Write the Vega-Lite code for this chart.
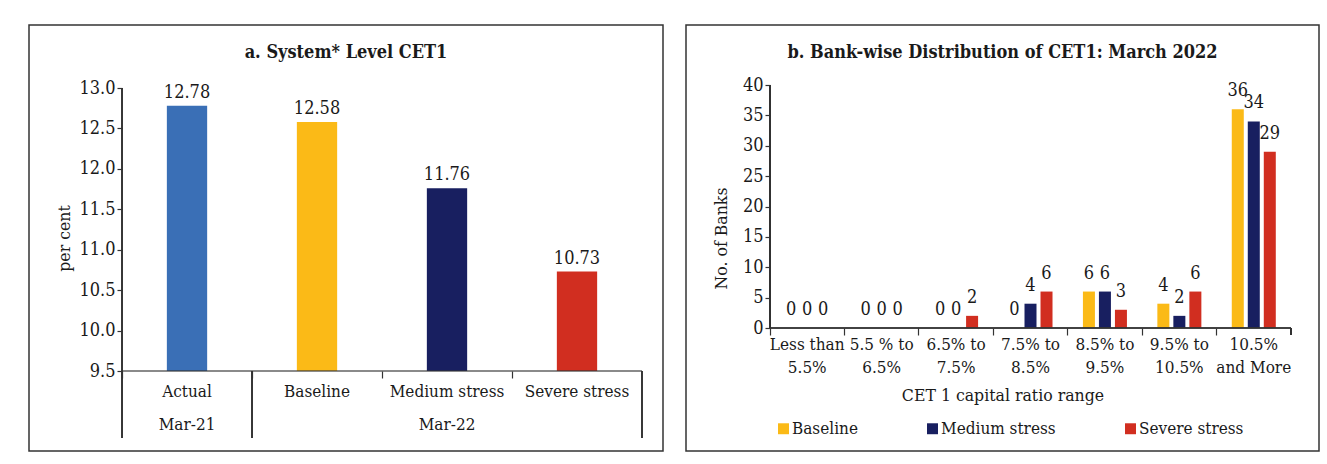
{
  "$schema": "https://vega.github.io/schema/vega-lite/v6.json",
  "padding": {"left": 28, "top": 24, "right": 0, "bottom": 0},
  "spacing": 21,
  "resolve": {"scale": {"color": "independent"}, "legend": {"color": "independent"}},
  "config": {
    "font": "DejaVu Serif Condensed, DejaVu Serif",
    "view": {"stroke": "#333", "strokeWidth": 1.5},
    "axis": {
      "labelFont": "DejaVu Serif Condensed, DejaVu Serif",
      "labelFontSize": 17,
      "labelColor": "#1a1a1a",
      "titleFont": "DejaVu Serif Condensed, DejaVu Serif",
      "titleFontSize": 17.5,
      "titleFontWeight": "normal",
      "titleColor": "#1a1a1a",
      "domainColor": "#333",
      "tickColor": "#333",
      "domainWidth": 1.2,
      "tickWidth": 1.2,
      "grid": false
    },
    "axisY": {"labelFontSize": 18},
    "legend": {"labelFont": "DejaVu Serif Condensed, DejaVu Serif", "labelFontSize": 17, "labelColor": "#1a1a1a"},
    "title": {"font": "DejaVu Serif Condensed, DejaVu Serif", "fontSize": 18, "fontWeight": "bold", "color": "#1a1a1a", "anchor": "middle"}
  },
  "hconcat": [
    {
      "width": 634,
      "height": 426,
      "title": {"text": "a. System* Level CET1", "offset": -37},
      "data": {"values": [
        {"scenario": "Actual", "period": "Mar-21", "value": 12.78},
        {"scenario": "Baseline", "period": "Mar-22", "value": 12.58},
        {"scenario": "Medium stress", "period": "Mar-22", "value": 11.76},
        {"scenario": "Severe stress", "period": "Mar-22", "value": 10.73}
      ]},
      "layer": [
        {
          "mark": {"type": "bar", "width": {"band": 0.31}},
          "encoding": {
            "x": {
              "field": "scenario", "type": "nominal", "sort": null,
              "scale": {"paddingInner": 0, "paddingOuter": 0.4385, "align": 0.8158},
              "axis": {
                "title": null, "offset": -80, "bandPosition": 0, "tickSize": 7, "domain": false,
                "labelAngle": 0, "labelPadding": 5, "labelLineHeight": 33,
                "labelExpr": "datum.value == 'Actual' ? ['Actual', 'Mar-21'] : datum.value == 'Medium stress' ? ['Medium stress', 'Mar-22'] : [datum.value, '']"
              }
            },
            "y": {
              "field": "value", "type": "quantitative",
              "scale": {"domain": [8.5106, 13.7792], "zero": false, "nice": false},
              "axis": {"offset": -93, "domain": false, "values": [9.5, 10, 10.5, 11, 11.5, 12, 12.5, 13], "format": ".1f", "title": "per cent", "tickSize": 5, "labelPadding": 2, "titlePadding": 5}
            },
            "y2": {"datum": 9.5},
            "color": {
              "field": "scenario", "type": "nominal", "legend": null,
              "scale": {"domain": ["Actual", "Baseline", "Medium stress", "Severe stress"], "range": ["#3A6FB6", "#FBBA17", "#181F60", "#D12E20"]}
            }
          }
        },
        {
          "mark": {"type": "bar", "width": {"band": 1}, "fill": null, "stroke": "#333", "strokeWidth": 0.7},
          "encoding": {
            "x": {"field": "scenario", "type": "nominal", "sort": null},
            "y": {"datum": 9.5},
            "y2": {"datum": 9.5}
          }
        },
        {
          "mark": {"type": "text", "baseline": "bottom", "dy": -4, "fontSize": 18, "color": "#1a1a1a"},
          "encoding": {
            "x": {"field": "scenario", "type": "nominal", "sort": null},
            "y": {"field": "value", "type": "quantitative"},
            "text": {"field": "value", "type": "quantitative", "format": ".2f"}
          }
        },
        {
          "mark": {"type": "rule", "color": "#333", "strokeWidth": 1.2},
          "encoding": {
            "x": {"datum": "Actual", "bandPosition": 0},
            "y": {"datum": 13},
            "y2": {"datum": 8.67}
          }
        },
        {
          "mark": {"type": "rule", "color": "#333", "strokeWidth": 1.2},
          "encoding": {
            "x": {"datum": "Baseline", "bandPosition": 0},
            "y": {"datum": 9.5},
            "y2": {"datum": 8.67}
          }
        },
        {
          "mark": {"type": "rule", "color": "#333", "strokeWidth": 1.2},
          "encoding": {
            "x": {"datum": "Severe stress", "bandPosition": 1},
            "y": {"datum": 9.5},
            "y2": {"datum": 8.67}
          }
        }
      ]
    },
    {
      "width": 633,
      "height": 426,
      "title": {"text": "b. Bank-wise Distribution of CET1: March 2022", "offset": -37},
      "data": {"values": [
        {"range": "Less than 5.5%", "series": "Baseline", "count": 0},
        {"range": "Less than 5.5%", "series": "Medium stress", "count": 0},
        {"range": "Less than 5.5%", "series": "Severe stress", "count": 0},
        {"range": "5.5 % to 6.5%", "series": "Baseline", "count": 0},
        {"range": "5.5 % to 6.5%", "series": "Medium stress", "count": 0},
        {"range": "5.5 % to 6.5%", "series": "Severe stress", "count": 0},
        {"range": "6.5% to 7.5%", "series": "Baseline", "count": 0},
        {"range": "6.5% to 7.5%", "series": "Medium stress", "count": 0},
        {"range": "6.5% to 7.5%", "series": "Severe stress", "count": 2},
        {"range": "7.5% to 8.5%", "series": "Baseline", "count": 0},
        {"range": "7.5% to 8.5%", "series": "Medium stress", "count": 4},
        {"range": "7.5% to 8.5%", "series": "Severe stress", "count": 6},
        {"range": "8.5% to 9.5%", "series": "Baseline", "count": 6},
        {"range": "8.5% to 9.5%", "series": "Medium stress", "count": 6},
        {"range": "8.5% to 9.5%", "series": "Severe stress", "count": 3},
        {"range": "9.5% to 10.5%", "series": "Baseline", "count": 4},
        {"range": "9.5% to 10.5%", "series": "Medium stress", "count": 2},
        {"range": "9.5% to 10.5%", "series": "Severe stress", "count": 6},
        {"range": "10.5% and More", "series": "Baseline", "count": 36},
        {"range": "10.5% and More", "series": "Medium stress", "count": 34},
        {"range": "10.5% and More", "series": "Severe stress", "count": 29}
      ]},
      "layer": [
        {
          "mark": {"type": "bar"},
          "encoding": {
            "x": {
              "field": "range", "type": "nominal", "sort": null,
              "scale": {"paddingInner": 0, "paddingOuter": 0.7525, "align": 0.75},
              "axis": {
                "title": "CET 1 capital ratio range", "offset": -123, "bandPosition": 0, "tickSize": 7, "domain": false,
                "labelAngle": 0, "labelPadding": 1, "labelLineHeight": 23, "titlePadding": 11,
                "labelExpr": "indexof(datum.value, 'More') > 0 ? [slice(datum.value, 0, indexof(datum.value, ' ')), slice(datum.value, indexof(datum.value, ' ') + 1)] : [slice(datum.value, 0, lastindexof(datum.value, ' ')), slice(datum.value, lastindexof(datum.value, ' ') + 1)]"
              }
            },
            "xOffset": {
              "field": "series", "type": "nominal", "sort": ["Baseline", "Medium stress", "Severe stress"],
              "scale": {"paddingInner": 0.25, "paddingOuter": 0.95}
            },
            "y": {
              "field": "count", "type": "quantitative",
              "scale": {"domain": [-20.247, 49.877], "nice": false},
              "axis": {"offset": -84, "domain": false, "values": [0, 5, 10, 15, 20, 25, 30, 35, 40], "title": "No. of Banks", "tickSize": 5, "labelPadding": 2, "titlePadding": 12}
            },
            "color": {
              "field": "series", "type": "nominal",
              "scale": {"domain": ["Baseline", "Medium stress", "Severe stress"], "range": ["#FBBA17", "#181F60", "#D12E20"]},
              "legend": {
                "orient": "none", "legendX": 89, "legendY": 395, "direction": "horizontal", "columns": 3,
                "title": null, "symbolType": "square", "symbolSize": 120, "symbolStrokeWidth": 0,
                "columnPadding": 66, "labelOffset": 0
              }
            }
          }
        },
        {
          "mark": {"type": "bar", "width": {"band": 1}, "fill": null, "stroke": "#333", "strokeWidth": 0.7},
          "encoding": {
            "x": {"field": "range", "type": "nominal", "sort": null},
            "y": {"datum": 0},
            "y2": {"datum": 0}
          }
        },
        {
          "mark": {"type": "rule", "color": "#333", "strokeWidth": 1.2},
          "encoding": {
            "x": {"datum": "Less than 5.5%", "bandPosition": 0},
            "y": {"datum": 0},
            "y2": {"datum": 40}
          }
        },
        {
          "mark": {"type": "rule", "color": "#333", "strokeWidth": 1.2},
          "encoding": {
            "x": {"datum": "10.5% and More", "bandPosition": 1},
            "y": {"datum": 0},
            "y2": {"datum": -1.15}
          }
        },
        {
          "mark": {"type": "text", "baseline": "bottom", "dy": -9, "fontSize": 18, "color": "#1a1a1a"},
          "encoding": {
            "x": {"field": "range", "type": "nominal", "sort": null},
            "xOffset": {"field": "series", "type": "nominal", "sort": ["Baseline", "Medium stress", "Severe stress"]},
            "y": {"field": "count", "type": "quantitative"},
            "text": {"field": "count", "type": "quantitative"}
          }
        }
      ]
    }
  ]
}
